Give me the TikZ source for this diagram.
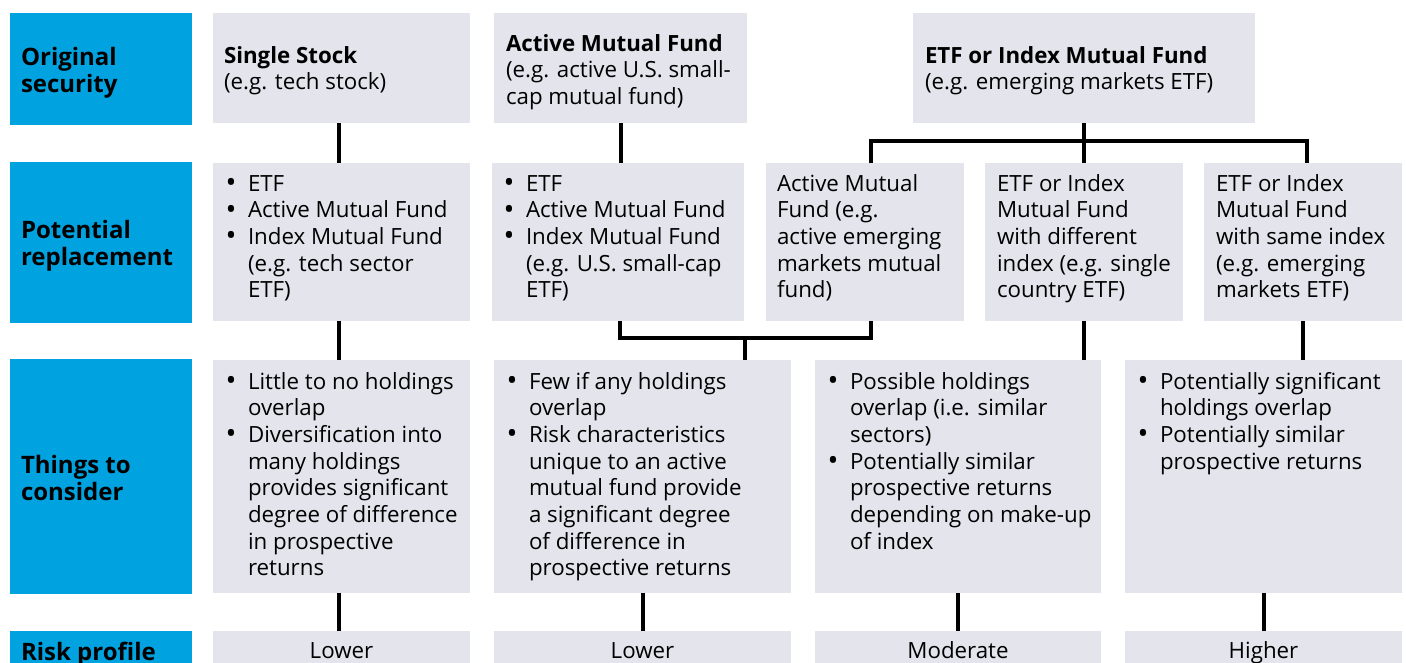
\documentclass[tikz,border=0pt]{standalone}
\usepackage{fontspec}
\setmainfont{Open Sans}
\usetikzlibrary{calc}
\definecolor{bblue}{RGB}{0,163,224}
\definecolor{gboxc}{RGB}{227,228,236}
\newcommand\bt{\makebox[24pt][l]{\hspace{1.5pt}\raisebox{-1.5pt}{\scalebox{1.3}{•}}}}
\newcommand\ct{\hspace*{24pt}}
\tikzset{
  gb/.style={fill=gboxc, draw=none, inner sep=0pt, outer sep=0pt, anchor=north west},
  bb/.style={fill=bblue, draw=none, inner sep=0pt, outer sep=0pt, anchor=north west},
  tx/.style={inner sep=0pt, outer sep=0pt, anchor=base west, align=left, font=\fontsize{22.3}{26.7}\selectfont},
  lb/.style={inner sep=0pt, outer sep=0pt, anchor=base west, align=left, font=\bfseries\fontsize{24}{27}\selectfont},
  rk/.style={inner sep=0pt, outer sep=0pt, anchor=base, font=\fontsize{22.3}{26.7}\selectfont},
  cn/.style={line width=4pt, black, line join=miter},
}
\begin{document}
\begin{tikzpicture}[x=1pt,y=-1pt]
\useasboundingbox (0,0) rectangle (1406,662);
\clip (0,0) rectangle (1406,662);
% blue label boxes
\node[bb, minimum width=182, minimum height=112] (b1) at (10,13) {};
\node[bb, minimum width=182, minimum height=161] (b2) at (10,162) {};
\node[bb, minimum width=182, minimum height=235] (b3) at (10,359) {};
\node[bb, minimum width=182, minimum height=50] (b4) at (10,631) {};
% (base anchor = baseline of the last line)
\node[lb] (lb1) at ($(b1.north west)+(11,79)$) {Original\\security};
\node[lb] (lb2) at ($(b2.north west)+(11,103)$) {Potential\\replacement};
\node[lb] (lb3) at ($(b3.north west)+(11,141)$) {Things to\\consider};
\node[lb] (lb4) at ($(b4.north west)+(11,29)$) {Risk profile};
% row 1
\node[gb, minimum width=257, minimum height=110] (r1a) at (213,13) {};
\node[gb, minimum width=253, minimum height=110] (r1b) at (494,13) {};
\node[gb, minimum width=342, minimum height=110] (r1c) at (913,13) {};
\node[tx] (t1a) at ($(r1a.north west)+(11,76.7)$) {\textbf{Single Stock}\\(e.g. tech stock)};
\node[tx] (t1b) at ($(r1b.north west)+(12,91.4)$) {\textbf{Active Mutual Fund}\\(e.g. active U.S. small-\\cap mutual fund)};
\node[tx] (t1c) at ($(r1c.north west)+(12,76.7)$) {\textbf{ETF or Index Mutual Fund}\\(e.g. emerging markets ETF)};
% row 2
\node[gb, minimum width=257, minimum height=158] (r2a) at (213,163) {};
\node[gb, minimum width=252, minimum height=158] (r2b) at (492,163) {};
\node[gb, minimum width=198, minimum height=158] (r2c) at (766,163) {};
\node[gb, minimum width=198, minimum height=158] (r2d) at (985,163) {};
\node[gb, minimum width=198, minimum height=158] (r2e) at (1204,163) {};
\node[tx] (t2a) at ($(r2a.north west)+(11,134.8)$) {\bt ETF\\\bt Active Mutual Fund\\\bt Index Mutual Fund\\\ct (e.g. tech sector\\\ct ETF)};
\node[tx] (t2b) at ($(r2b.north west)+(10,134.8)$) {\bt ETF\\\bt Active Mutual Fund\\\bt Index Mutual Fund\\\ct (e.g. U.S. small-cap\\\ct ETF)};
\node[tx] (t2c) at ($(r2c.north west)+(11,134.8)$) {Active Mutual\\Fund (e.g.\\active emerging\\markets mutual\\fund)};
\node[tx] (t2d) at ($(r2d.north west)+(12,134.8)$) {ETF or Index\\Mutual Fund\\with different\\index (e.g. single\\country ETF)};
\node[tx] (t2e) at ($(r2e.north west)+(12,134.8)$) {ETF or Index\\Mutual Fund\\with same index\\(e.g. emerging\\markets ETF)};
% row 3
\node[gb, minimum width=257, minimum height=233] (r3a) at (213,360) {};
\node[gb, minimum width=297, minimum height=233] (r3b) at (494,360) {};
\node[gb, minimum width=286, minimum height=233] (r3c) at (815,360) {};
\node[gb, minimum width=277, minimum height=233] (r3d) at (1125,360) {};
\node[tx] (t3a) at ($(r3a.north west)+(11,215.9)$) {\bt Little to no holdings\\\ct overlap\\\bt Diversification into\\\ct many holdings\\\ct provides significant\\\ct degree of difference\\\ct in prospective\\\ct returns};
\node[tx] (t3b) at ($(r3b.north west)+(11,215.9)$) {\bt Few if any holdings\\\ct overlap\\\bt Risk characteristics\\\ct unique to an active\\\ct mutual fund provide\\\ct a significant degree\\\ct of difference in\\\ct prospective returns};
\node[tx] (t3c) at ($(r3c.north west)+(11,189.2)$) {\bt Possible holdings\\\ct overlap (i.e. similar\\\ct sectors)\\\bt Potentially similar\\\ct prospective returns\\\ct depending on make-up\\\ct of index};
\node[tx] (t3d) at ($(r3d.north west)+(11,109.1)$) {\bt Potentially significant\\\ct holdings overlap\\\bt Potentially similar\\\ct prospective returns};
% row 4
\node[gb, minimum width=257, minimum height=50] (r4a) at (213,631) {};
\node[gb, minimum width=297, minimum height=50] (r4b) at (494,631) {};
\node[gb, minimum width=286, minimum height=50] (r4c) at (815,631) {};
\node[gb, minimum width=277, minimum height=50] (r4d) at (1125,631) {};
\node[rk] (t4a) at ($(r4a.north)+(0,27)$) {Lower};
\node[rk] (t4b) at ($(r4b.north)+(0,27)$) {Lower};
\node[rk] (t4c) at ($(r4c.north)+(0,27)$) {Moderate};
\node[rk] (t4d) at ($(r4d.north)+(0,27)$) {Higher};
% connectors
\coordinate (jt) at (1084,141);
\coordinate (jb) at (745,338);
\draw[cn] ($(r1a.south)+(-3,0)$) -- ($(r2a.north)+(-3,0)$);
\draw[cn] (r1b.south) -- (r1b.south |- r2b.north);
\draw[cn] (r1c.south) -- (r1c.south |- r2d.north);
\draw[cn] ($(r2c.north)+(6,0)$) |- (jt) -| ($(r2e.north)+(4,0)$);
\draw[cn] ($(r2b.south)+(2,0)$) |- (jb) -| ($(r2c.south)+(6,0)$);
\draw[cn] (jb) -- (jb |- r3b.north);
\draw[cn] ($(r2a.south)+(-3,0)$) -- ($(r3a.north)+(-3,0)$);
\draw[cn] (r2d.south) -- (r2d.south |- r3c.north);
\draw[cn] (r2e.south) -- (r2e.south |- r3d.north);
\draw[cn] ($(r3a.south)+(-3,0)$) -- ($(r4a.north)+(-3,0)$);
\draw[cn] (r3b.south) -- (r4b.north);
\draw[cn] (r3c.south) -- (r4c.north);
\draw[cn] (r3d.south) -- (r4d.north);
\end{tikzpicture}
\end{document}
